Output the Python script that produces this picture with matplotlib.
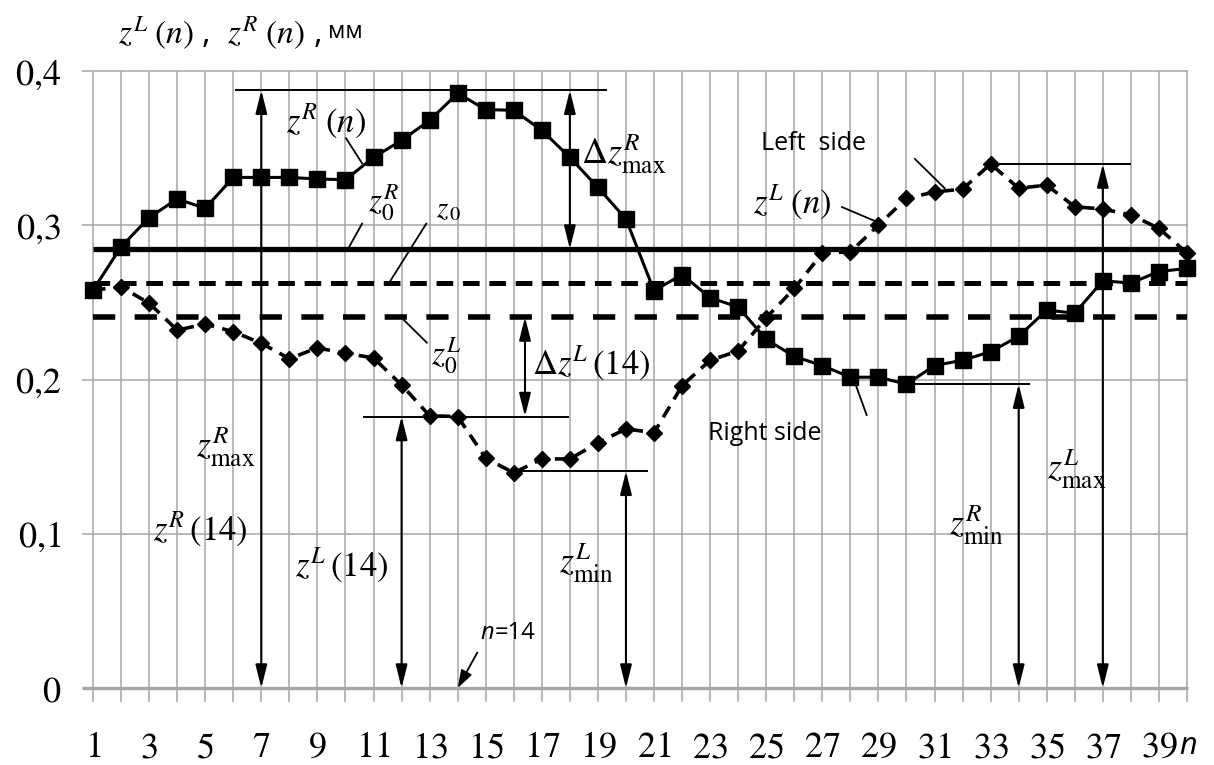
import matplotlib
matplotlib.use('Agg')
import matplotlib.pyplot as plt

plt.rcParams['mathtext.fontset'] = 'stix'
plt.rcParams['lines.scale_dashes'] = False

# measurement points and profile heights, mm
n = list(range(1, 41))
z_right = [0.258, 0.286, 0.305, 0.317, 0.311, 0.331, 0.331, 0.331, 0.330, 0.3295,
           0.344, 0.355, 0.368, 0.3855, 0.375, 0.3745, 0.3615, 0.344, 0.3245, 0.304,
           0.2576, 0.268, 0.253, 0.247, 0.226, 0.215, 0.209, 0.2015, 0.2015, 0.197,
           0.209, 0.2125, 0.218, 0.228, 0.245, 0.243, 0.264, 0.2625, 0.270, 0.272]
z_left = [0.258, 0.260, 0.2495, 0.232, 0.236, 0.231, 0.2235, 0.2135, 0.2205, 0.217,
          0.214, 0.1965, 0.1765, 0.176, 0.149, 0.1395, 0.1485, 0.1485, 0.159, 0.168,
          0.1655, 0.196, 0.2125, 0.2185, 0.240, 0.259, 0.282, 0.2827, 0.300, 0.3175,
          0.3215, 0.3235, 0.3397, 0.324, 0.326, 0.312, 0.3105, 0.3067, 0.298, 0.282]

# mean levels
z0_right = 0.2846
z0_mid = 0.2625
z0_left = 0.2405

x_ticks = list(range(1, 40, 2))
y_ticks = [0, 0.1, 0.2, 0.3, 0.4]
y_tick_labels = ['0', '0,1', '0,2', '0,3', '0,4']

fig = plt.figure(figsize=(12.14, 7.65), dpi=100)
ax = fig.add_axes([79 / 1214, (765 - 718.9) / 765, 1122 / 1214, 694.2 / 765])
ax.set_xlim(0.5, 40.5)
ax.set_ylim(-0.02, 0.43)
for s in ax.spines.values():
    s.set_visible(False)

# grid
grid_c = '#a6a6a6'
ax.vlines(n, -0.009, 0.4, color=grid_c, lw=1.1, zorder=0)
ax.hlines(y_ticks[1:], 0.6, 40.05, color=grid_c, lw=1.1, zorder=0)
ax.hlines(0, 0.6, 40.05, color=grid_c, lw=2.4, zorder=0)

# serif tick labels via mathtext (stix roman)
ax.set_xticks(x_ticks)
ax.set_xticklabels([r'$\mathrm{%d}$' % v for v in x_ticks])
ax.set_yticks(y_ticks)
ax.set_yticklabels([r'$\mathrm{%s}$' % s.replace(',', '{,}') for s in y_tick_labels])
ax.tick_params(length=0, labelsize=26)
ax.tick_params(axis='y', pad=13)
ax.tick_params(axis='x', pad=8)
ax.annotate('n', xy=(40, 0), xycoords=('data', 'axes fraction'), xytext=(1, -9),
            textcoords='offset points', ha='center', va='top',
            fontsize=22, family='Open Sans', style='italic')

# mean lines
ax.hlines(z0_right, 1, 40, color='k', lw=3.8, zorder=2)
ax.hlines(z0_mid, 1, 40, color='k', lw=3.6, linestyles=[(0, (12, 7))], zorder=2)
ax.hlines(z0_left, 1, 40, color='k', lw=4.0, linestyles=[(0, (16, 14))], zorder=2)

# profiles
ax.plot(n, z_left, color='k', lw=2.6, dashes=(9, 6), marker='D', ms=8, zorder=3)
ax.plot(n, z_right, color='k', lw=2.2, marker='s', ms=11, zorder=4)

# extreme levels
r_max = max(z_right) + 0.002
l_max = max(z_left)
r_min = min(z_right)
l_min = min(z_left) + 0.001
l_14 = z_left[13]
thin = dict(color='k', lw=1.4, zorder=5)
ax.hlines(r_max, 6.06, 19.32, **thin)
ax.hlines(l_max, 33.15, 38.0, **thin)
ax.hlines(r_min, 30.15, 34.4, **thin)
ax.hlines(l_min, 16.05, 20.8, **thin)
ax.hlines(l_14, 10.64, 17.97, **thin)


def dim_arrow(x, y0, y1):
    ax.annotate('', xy=(x, y1), xytext=(x, y0),
                arrowprops=dict(arrowstyle='<|-|>,head_length=1.0,head_width=0.25',
                                mutation_scale=14, lw=1.5, color='k',
                                shrinkA=0, shrinkB=0), zorder=6)


dim_arrow(7, 0, r_max)
dim_arrow(18, r_max, z0_right)
dim_arrow(12, 0, l_14)
dim_arrow(16.4, z0_left, l_14)
dim_arrow(20, 0, l_min)
dim_arrow(34, 0, r_min)
dim_arrow(37, 0, l_max)

# leaders
leaders = [((10.02, 0.3564), (10.59, 0.3402)),
           ((10.59, 0.301), (10.09, 0.2846)),
           ((12.88, 0.301), (11.55, 0.2625)),
           ((12.08, 0.2386), (12.9, 0.2239)),
           ((30.3, 0.343), (31.36, 0.324)),
           ((27.7, 0.3118), (28.97, 0.302)),
           ((28.13, 0.1996), (28.58, 0.177))]
for (xa, ya), (xb, yb) in leaders:
    ax.plot([xa, xb], [ya, yb], color='k', lw=1.3, zorder=5)

ax.annotate('', xy=(14.0, 0.0), xytext=(14.7, 0.023),
            arrowprops=dict(arrowstyle='-|>,head_length=0.9,head_width=0.3',
                            mutation_scale=12, lw=1.3, color='k',
                            shrinkA=0, shrinkB=0))

# labels
math = dict(ha='center', va='center', zorder=7)
ax.text(9.32, 0.368, r'$z^{R}\;(n)$', fontsize=25, **math)
ax.text(11.36, 0.3147, r'$z_{0}^{R}$', fontsize=24, **math)
ax.text(13.67, 0.3105, r'$z_{\,0}$', fontsize=21, **math)
ax.text(19.9, 0.346, r'$\Delta z^{R}_{\mathrm{max}}$', fontsize=26, **math)
ax.text(25.95, 0.3155, r'$z^{L}\;(n)$', fontsize=25, **math)
ax.text(13.6, 0.2154, r'$z_{0}^{L}$', fontsize=24, **math)
ax.text(18.75, 0.2107, r'$\Delta z^{L}\,(14)$', fontsize=25, **math)
ax.text(5.74, 0.156, r'$z^{R}_{\mathrm{max}}$', fontsize=26, **math)
ax.text(4.81, 0.1037, r'$z^{R}\,(14)$', fontsize=25, **math)
ax.text(9.88, 0.08, r'$z^{L}\,(14)$', fontsize=25, **math)
ax.text(18.6, 0.081, r'$z^{L}_{\mathrm{min}}$', fontsize=26, **math)
ax.text(32.5, 0.1057, r'$z^{R}_{\mathrm{min}}$', fontsize=26, **math)
ax.text(36.08, 0.142, r'$z^{L}_{\mathrm{max}}$', fontsize=26, **math)

ax.text(26.7, 0.3527, 'Left  side', fontsize=18, family='Open Sans', ha='center', va='center')
ax.text(24.95, 0.165, 'Right side', fontsize=18, family='Open Sans', ha='center', va='center')

t_n = ax.text(15.3, 0.036, 'n', fontsize=17, family='Open Sans', style='italic',
              ha='right', va='center')
ax.annotate('=14', xy=(1, 0), xycoords=t_n, va='bottom', ha='left',
            fontsize=17, family='Open Sans')

# axis title
t1 = ax.text(1.89, 0.4246, r'$z^{L}\;(n)$ ,  $z^{R}\;(n)$ ,', fontsize=24,
             family='Open Sans', ha='left', va='center')
ax.annotate('мм', xy=(1, 0.2), xycoords=t1, xytext=(5, 0), textcoords='offset points',
            va='bottom', ha='left', fontsize=17, family='Open Sans')

fig.savefig('out.png', dpi=100)
